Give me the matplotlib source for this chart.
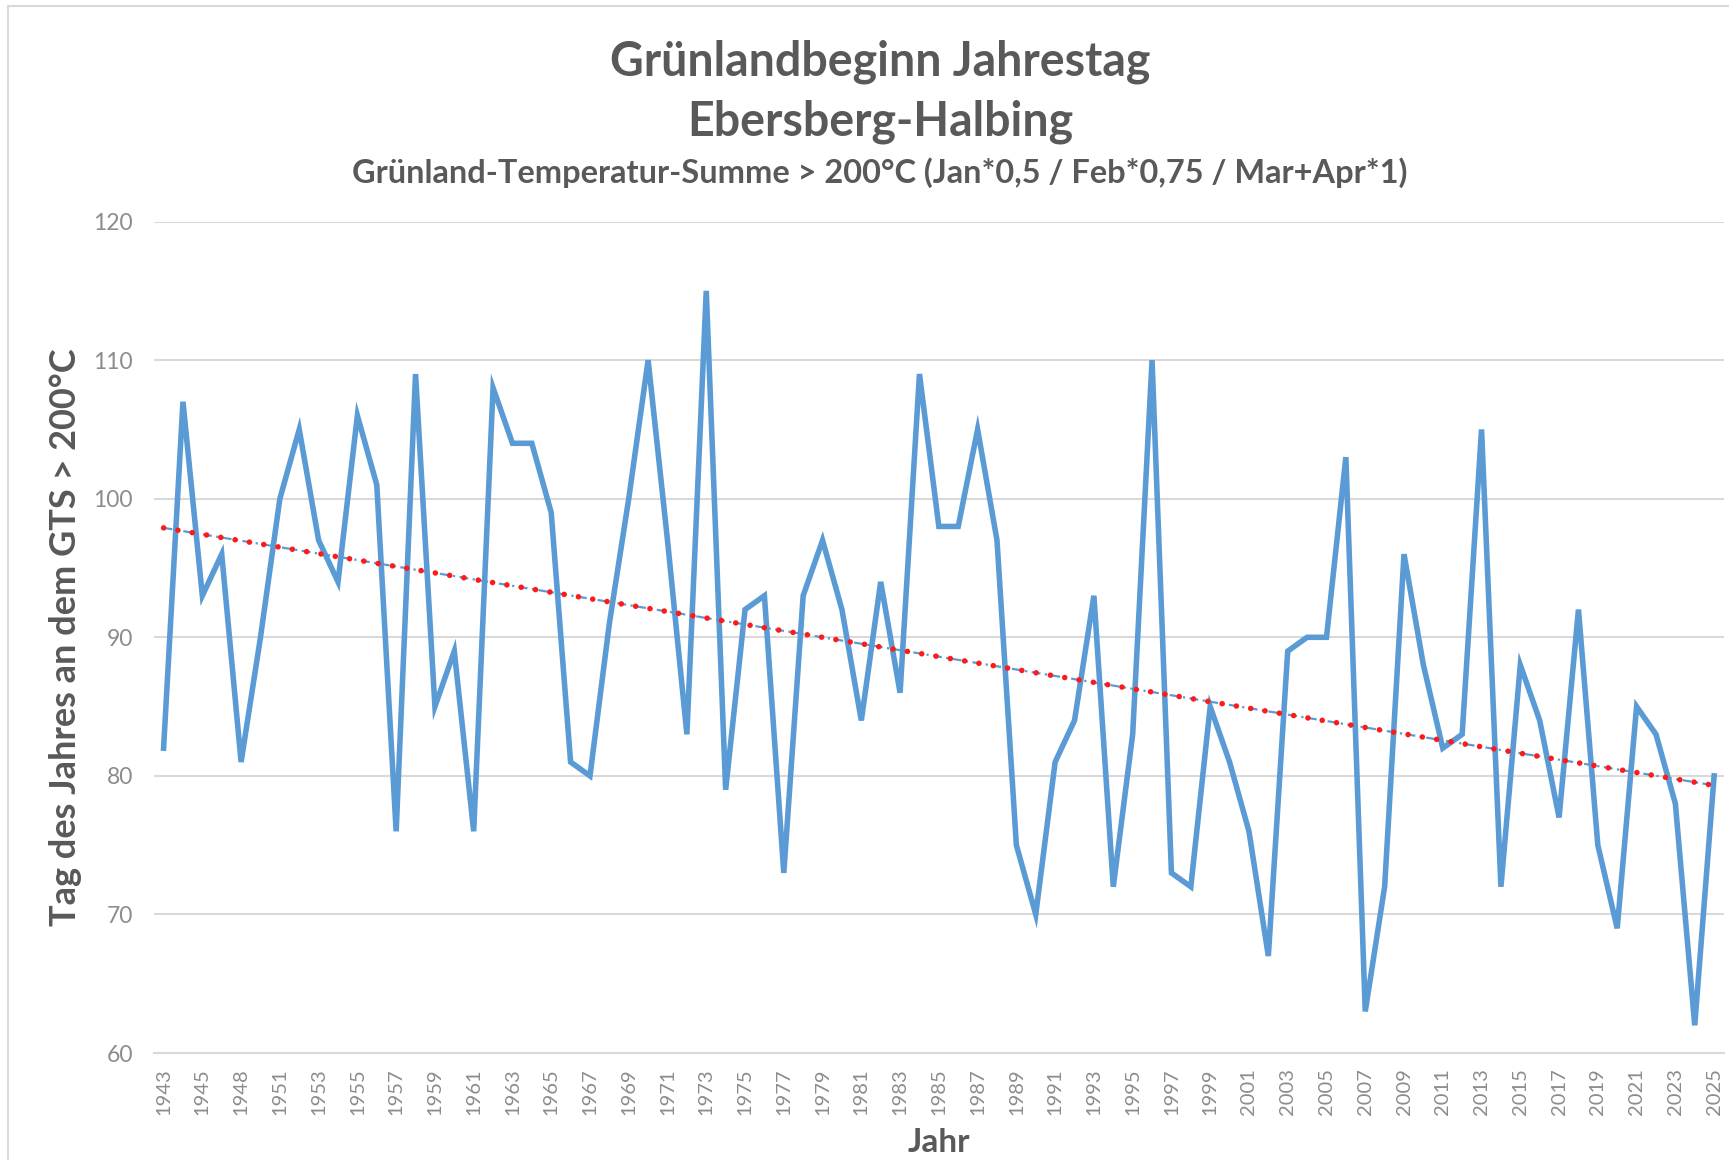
import numpy as np
import matplotlib
matplotlib.use("Agg")
import matplotlib.pyplot as plt
from matplotlib.lines import Line2D

# ---------- data ----------
YEARS = [1943, 1944, 1945, 1947, 1948, 1950] + list(range(1951, 2026))
DAY = [82, 107, 93, 96, 81, 90, 100, 105, 97, 94,
       106, 101, 76, 109, 85, 89, 76, 108, 104, 104,
       99, 81, 80, 91, 100, 110, 97, 83, 115, 79,
       92, 93, 73, 93, 97, 92, 84, 94, 86, 109,
       98, 98, 105, 97, 75, 70, 81, 84, 93, 72,
       83, 110, 73, 72, 85, 81, 76, 67, 89, 90,
       90, 103, 63, 72, 96, 88, 82, 83, 105, 72,
       88, 84, 77, 92, 75, 69, 85, 83, 78, 62, 80]
Y_TICKS = [60, 70, 80, 90, 100, 110, 120]

TITLE_1 = "Grünlandbeginn Jahrestag"
TITLE_2 = "Ebersberg-Halbing"
SUBTITLE = "Grünland-Temperatur-Summe > 200°C (Jan*0,5 / Feb*0,75 / Mar+Apr*1)"
YLABEL = "Tag des Jahres an dem GTS > 200°C"
XLABEL = "Jahr"

DARK = "#595959"
TICK = "#8c8c8c"
GRID = "#d9d9d9"
BLUE = "#5b9bd5"

plt.rcParams["font.family"] = ["Lato", "DejaVu Sans"]

fig = plt.figure(figsize=(17.29, 11.60), dpi=100)
ax = fig.add_axes([0.089, 0.0922, 0.908, 0.7168])

x = np.arange(len(YEARS))
ax.plot(x, DAY, color=BLUE, lw=4.0, solid_joinstyle="miter", zorder=3)

# linear trend over the category index (like the Excel trendline)
k, d = np.polyfit(x, DAY, 1)
trend = k * x + d
ax.plot(x, trend, color=BLUE, lw=1.6, ls=(0, (4, 2, 1, 2)), zorder=4)
ax.plot(x, trend, color="#ff1a1a", lw=4.0, ls=(0, (0.01, 2.6)),
        dash_capstyle="round", zorder=5)

ax.set_xlim(-0.5, len(YEARS) - 0.5)
ax.set_ylim(60, 120)
ax.set_yticks(Y_TICKS)
ax.set_yticklabels([str(v) for v in Y_TICKS], color=TICK, fontsize=16.5)
ax.set_xticks(x[::2])
ax.set_xticklabels([str(y) for y in YEARS[::2]], rotation=90, color=TICK, fontsize=14.5)
ax.tick_params(axis="both", length=0)
ax.tick_params(axis="y", pad=15)
ax.tick_params(axis="x", pad=11)

ax.grid(axis="y", color=GRID, lw=1.5)
ax.set_axisbelow(True)
for s in ["top", "right", "left"]:
    ax.spines[s].set_visible(False)
ax.spines["bottom"].set_color(GRID)
ax.spines["bottom"].set_linewidth(1.5)

ax.set_ylabel(YLABEL, color=DARK, fontsize=26, fontweight="bold", labelpad=8)
ax.set_xlabel(XLABEL, color=DARK, fontsize=24, fontweight="bold", labelpad=9)

fig.text(0.509, 0.947, TITLE_1, ha="center", va="center",
         color=DARK, fontsize=33.5, fontweight="bold")
fig.text(0.509, 0.895, TITLE_2, ha="center", va="center",
         color=DARK, fontsize=33.5, fontweight="bold")
fig.text(0.509, 0.851, SUBTITLE, ha="center", va="center",
         color=DARK, fontsize=23.4, fontweight="bold")

# chart area border (left and top edges visible)
fig.add_artist(Line2D([8 / 1729, 8 / 1729], [0, 1 - 6 / 1160], color=GRID, lw=1.5))
fig.add_artist(Line2D([8 / 1729, 1], [1 - 6 / 1160, 1 - 6 / 1160], color=GRID, lw=1.5))

fig.savefig("out.png", dpi=100)
